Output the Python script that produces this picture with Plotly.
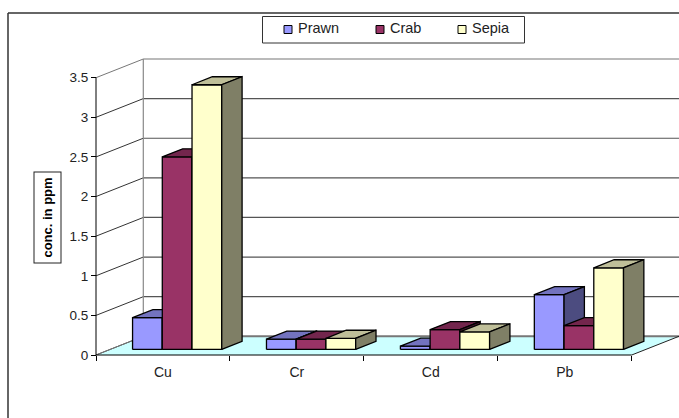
import plotly.graph_objects as go

# Data
categories = ["Cu", "Cr", "Cd", "Pb"]
prawn = [0.40, 0.13, 0.04, 0.69]
crab = [2.43, 0.13, 0.25, 0.30]
sepia = [3.34, 0.14, 0.22, 1.03]
y_ticks = [0, 0.5, 1, 1.5, 2, 2.5, 3, 3.5]
y_labels = ["0", "0.5", "1", "1.5", "2", "2.5", "3", "3.5"]
axis_title = "conc. in ppm"

series = [
    ("Prawn", prawn, "#9999FF", "#7373BF", "#4C4C80"),
    ("Crab", crab, "#993366", "#73264D", "#4C1A33"),
    ("Sepia", sepia, "#FFFFCC", "#BFBF99", "#7F7F66"),
]

W, H = 679, 418
# Front plane of the plot, in page pixels
LEFT, RIGHT, BOTTOM, TOP = 96.0, 631.7, 355.0, 77.7
px_x = (RIGHT - LEFT) / len(categories)
px_y = (BOTTOM - TOP) / y_ticks[-1]

# The axes span the whole page so the oblique faces are not clipped
X_RANGE = [-LEFT / px_x, (W - LEFT) / px_x]
Y_RANGE = [-(H - BOTTOM) / px_y, BOTTOM / px_y]

# Oblique projection: full depth of the floor, in axis units
DEPTH_X = 47.3 / px_x
DEPTH_Y = 18.7 / px_y
BAR_FRONT, BAR_BACK = 0.30, 0.73
GAP = 0.167
BAR_W = (1 - 2 * GAP) / 3


def project(u, v, depth):
    return u + depth * DEPTH_X, v + depth * DEPTH_Y


def poly(points):
    xs, ys = zip(*[project(*p) for p in points])
    return list(xs) + [xs[0]], list(ys) + [ys[0]]


def line_trace(xs, ys, color, width):
    return go.Scatter(x=xs, y=ys, mode="lines", line=dict(color=color, width=width),
                      showlegend=False, hoverinfo="skip")


def face_trace(points, fill, name):
    xs, ys = poly(points)
    return go.Scatter(x=xs, y=ys, mode="lines", fill="toself", fillcolor=fill,
                      line=dict(color="#000000", width=1.3),
                      showlegend=False, name=name, hoverinfo="name")


fig = go.Figure()
n = len(categories)

# Floor
fx, fy = poly([(0, 0, 0), (n, 0, 0), (n, 0, 1), (0, 0, 1)])
fig.add_trace(go.Scatter(x=fx, y=fy, mode="lines", fill="toself", fillcolor="#CCFFFF",
                         line=dict(width=0), showlegend=False, hoverinfo="skip"))

# Back wall gridlines and the rungs on the side wall
x0b, ybot = project(0, 0, 1)
x1b, _ = project(n, 0, 1)
for t in y_ticks:
    _, yb = project(0, t, 1)
    shade = "#777777" if t in (0, y_ticks[-1]) else "#555555"
    fig.add_trace(line_trace([x0b, X_RANGE[1]], [yb, yb], shade, 2 if t == 0 else 1.2))
    fig.add_trace(line_trace([0, x0b], [t, yb], "#777777" if t == y_ticks[-1] else "#333333", 1))
_, ytop = project(0, y_ticks[-1], 1)
fig.add_trace(line_trace([x0b, x0b], [ybot, ytop], "#888888", 1.2))
fig.add_trace(line_trace([0, x0b], [0, ybot], "#777777", 1))
fig.add_trace(line_trace([n, x1b], [0, ybot], "#222222", 1))

# Front axis lines
fig.add_trace(line_trace([0, n], [0, 0], "#000000", 1))
fig.add_trace(line_trace([0, 0], [0, y_ticks[-1]], "#000000", 1))

# Bars: each face is computed from its value through the projection
for j, (name, values, front, top, side) in enumerate(series):
    for i, v in enumerate(values):
        a = i + GAP + j * BAR_W
        b = a + BAR_W
        fig.add_trace(face_trace([(a, 0, BAR_FRONT), (b, 0, BAR_FRONT), (b, v, BAR_FRONT), (a, v, BAR_FRONT)], front, name))
        fig.add_trace(face_trace([(a, v, BAR_FRONT), (b, v, BAR_FRONT), (b, v, BAR_BACK), (a, v, BAR_BACK)], top, name))
        fig.add_trace(face_trace([(b, 0, BAR_FRONT), (b, 0, BAR_BACK), (b, v, BAR_BACK), (b, v, BAR_FRONT)], side, name))

FONT = "Liberation Sans, Arial, sans-serif"
TEXT = "#222222"

shapes = [
    # Chart frame
    dict(type="line", xref="paper", yref="paper", x0=8 / W, x1=8 / W, y0=0, y1=1 - 13 / H,
         line=dict(color="#333333", width=1.5)),
    dict(type="line", xref="paper", yref="paper", x0=8 / W, x1=1, y0=1 - 13 / H, y1=1 - 13 / H,
         line=dict(color="#333333", width=1.5)),
    # Legend box
    dict(type="rect", xref="paper", yref="paper", x0=262.5 / W, x1=524.5 / W,
         y0=1 - 43 / H, y1=1 - 16.5 / H, fillcolor="#FFFFFF",
         line=dict(color="#333333", width=1)),
]
annotations = []
for (name, _, front, _, _), mx in zip(series, [288, 380, 462]):
    shapes.append(dict(type="rect", xref="paper", yref="paper",
                       x0=(mx - 4) / W, x1=(mx + 4) / W,
                       y0=1 - 33.5 / H, y1=1 - 25.5 / H, fillcolor=front,
                       line=dict(color="#000000", width=1)))
    annotations.append(dict(text=name, xref="paper", yref="paper", x=(mx + 9) / W,
                            y=1 - 28.5 / H, xanchor="left", yanchor="middle", showarrow=False,
                            font=dict(family=FONT, size=14.5, color=TEXT),
                            borderpad=0))

# Boxed value-axis title
annotations.append(dict(text="<b>%s</b>" % axis_title, xref="paper", yref="paper",
                        x=47 / W, y=1 - 217.5 / H, xanchor="center", yanchor="middle",
                        showarrow=False, textangle=-90, width=90, height=26,
                        font=dict(family=FONT, size=13, color="#000000"),
                        bgcolor="#FFFFFF", bordercolor="#222222", borderwidth=1, borderpad=0))

fig.update_layout(
    template="none",
    width=W, height=H, autosize=False,
    margin=dict(l=0, r=0, t=0, b=0),
    paper_bgcolor="#FFFFFF", plot_bgcolor="rgba(0,0,0,0)",
    showlegend=False,
    shapes=shapes, annotations=annotations,
    xaxis=dict(
        domain=[0, 1], range=X_RANGE, automargin=False, showgrid=False, zeroline=False,
        showline=False, anchor="free", position=1 - BOTTOM / H,
        tickmode="array", tickvals=[i + 0.5 for i in range(n)], ticktext=categories,
        ticks="", ticklabelstandoff=7,
        tickfont=dict(family=FONT, size=14, color=TEXT),
        minor=dict(tickmode="array", tickvals=list(range(n + 1)), ticks="outside",
                   ticklen=5, tickwidth=1, tickcolor="#000000", showgrid=False),
    ),
    yaxis=dict(
        domain=[0, 1], range=Y_RANGE, automargin=False, showgrid=False,
        zeroline=False, showline=False, anchor="free", position=LEFT / W,
        tickmode="array", tickvals=y_ticks, ticktext=y_labels,
        ticks="outside", ticklen=5, tickwidth=1, tickcolor="#000000",
        tickfont=dict(family=FONT, size=13.5, color=TEXT),
    ),
)

fig.write_html("out.html", config=dict(displayModeBar=False))
